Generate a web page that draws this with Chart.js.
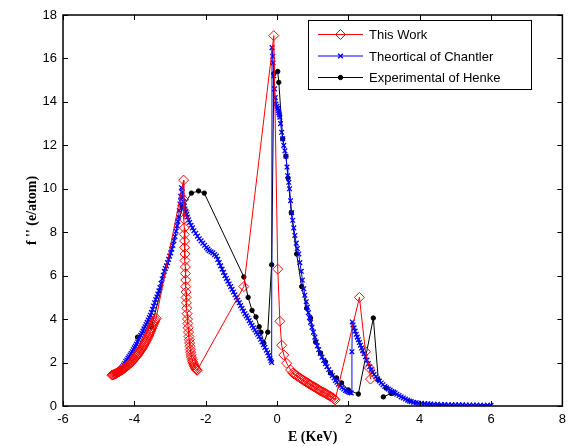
<!DOCTYPE html>
<html>
<head>
<meta charset="utf-8">
<script src="https://cdn.jsdelivr.net/npm/chart.js@4.4.1/dist/chart.umd.min.js"></script>
<style>
  html, body { margin: 0; padding: 0; background: #fff; }
</style>
</head>
<body>
<canvas id="fchart" width="572" height="446"></canvas>
<script>
// This Work (red diamonds)
const workE = [
  -4.63, -4.61, -4.59, -4.57, -4.55, -4.53, -4.51, -4.49, -4.47, -4.45, -4.43, -4.41, -4.39, -4.37, -4.35, -4.33,
  -4.31, -4.29, -4.27, -4.25, -4.23, -4.21, -4.19, -4.17, -4.15, -4.13, -4.11, -4.09, -4.07, -4.05, -4.03, -4.01,
  -3.99, -3.97, -3.95, -3.93, -3.91, -3.89, -3.87, -3.85, -3.83, -3.81, -3.79, -3.77, -3.75, -3.73, -3.71, -3.69,
  -3.67, -3.65, -3.63, -3.61, -3.59, -3.57, -3.55, -3.53, -3.51, -3.49, -3.47, -3.45, -3.43, -3.41, -3.39,
  -2.62, -2.62, -2.61, -2.61, -2.60, -2.60, -2.59, -2.59, -2.58, -2.58, -2.57, -2.57, -2.56, -2.56, -2.55, -2.55,
  -2.54, -2.53, -2.52, -2.51, -2.50, -2.49, -2.48, -2.47, -2.46, -2.45, -2.44, -2.43, -2.42, -2.41, -2.40, -2.38,
  -2.37, -2.35, -2.33, -2.31, -2.29, -2.27, -2.25, -2.24,
  -0.93, -0.09, 0.02, 0.08, 0.13, 0.19, 0.27, 0.38,
  0.44, 0.48, 0.52, 0.56, 0.60, 0.64, 0.68, 0.72, 0.76, 0.80, 0.84, 0.88, 0.92, 0.96, 1.00, 1.04, 1.08, 1.12,
  1.16, 1.20, 1.24, 1.28, 1.32, 1.36, 1.40, 1.44, 1.48, 1.52, 1.56, 1.60, 1.63,
  2.31, 2.48, 2.59, 2.62
];
const workF = [
  1.42, 1.43, 1.44, 1.45, 1.47, 1.48, 1.50, 1.52, 1.54, 1.56, 1.58, 1.60, 1.62, 1.64, 1.66, 1.68,
  1.70, 1.73, 1.75, 1.78, 1.80, 1.83, 1.86, 1.89, 1.92, 1.95, 1.98, 2.01, 2.05, 2.08, 2.12, 2.16,
  2.20, 2.24, 2.28, 2.32, 2.36, 2.40, 2.45, 2.50, 2.55, 2.60, 2.65, 2.70, 2.76, 2.82, 2.88, 2.94,
  3.00, 3.06, 3.13, 3.20, 3.27, 3.34, 3.42, 3.50, 3.58, 3.66, 3.75, 3.83, 3.90, 3.97, 4.04,
  10.4, 9.5, 9.0, 8.6, 8.2, 7.9, 7.6, 7.3, 7.0, 6.7, 6.4, 6.1, 5.8, 5.5, 5.25, 5.0,
  4.75, 4.5, 4.25, 4.0, 3.8, 3.6, 3.4, 3.2, 3.05, 2.9, 2.75, 2.6, 2.48, 2.36, 2.25, 2.14,
  2.05, 1.96, 1.88, 1.81, 1.75, 1.70, 1.66, 1.64,
  5.5, 17.05, 6.3, 3.9, 2.8, 2.35, 1.97, 1.66,
  1.52, 1.47, 1.43, 1.39, 1.34, 1.29, 1.25, 1.20, 1.16, 1.12, 1.08, 1.04, 1.00, 0.96, 0.92, 0.88, 0.84, 0.80,
  0.76, 0.72, 0.68, 0.65, 0.61, 0.58, 0.54, 0.50, 0.46, 0.42, 0.38, 0.33, 0.28,
  5.0, 2.5, 1.75, 1.24
];

// Theortical of Chantler (blue crosses)
const chantlerE = [
  -4.55, -4.51, -4.48, -4.45, -4.42, -4.39, -4.36, -4.33, -4.30, -4.27, -4.24, -4.21, -4.18, -4.15, -4.12, -4.09,
  -4.06, -4.03, -4.00, -3.97, -3.94, -3.91, -3.88, -3.85, -3.82, -3.79, -3.76, -3.73, -3.70, -3.67, -3.64, -3.61,
  -3.58, -3.55, -3.52, -3.49, -3.46, -3.43, -3.40, -3.37, -3.34, -3.31, -3.28, -3.25, -3.22, -3.19, -3.16, -3.13,
  -3.10, -3.07, -3.04, -3.01, -2.98, -2.95, -2.92, -2.89, -2.86, -2.83, -2.80, -2.78, -2.76, -2.74, -2.72, -2.70,
  -2.68, -2.66, -2.64, -2.62, -2.60, -2.58, -2.56, -2.53, -2.51, -2.48, -2.45, -2.41, -2.37, -2.33, -2.28, -2.23,
  -2.18, -2.13, -2.08, -2.03, -1.98, -1.94, -1.90, -1.85, -1.80, -1.75, -1.70, -1.66, -1.62, -1.58, -1.54, -1.50,
  -1.46, -1.42, -1.38, -1.34, -1.30, -1.26, -1.22, -1.18, -1.14, -1.10, -1.06, -1.02, -0.98, -0.94, -0.90, -0.86,
  -0.82, -0.78, -0.74, -0.70, -0.66, -0.62, -0.58, -0.54, -0.50, -0.46, -0.42, -0.38, -0.34, -0.30, -0.26, -0.23,
  -0.20, -0.17, -0.15, -0.14, -0.12, -0.11, -0.09, -0.07, -0.05, -0.03, 0.00, 0.02, 0.04, 0.05, 0.07, 0.08,
  0.10, 0.13, 0.16, 0.19, 0.22, 0.25, 0.28, 0.30, 0.33, 0.35, 0.38, 0.41, 0.44, 0.47, 0.50, 0.54,
  0.57, 0.61, 0.64, 0.68, 0.71, 0.75, 0.78, 0.82, 0.85, 0.88, 0.91, 0.94, 0.98, 1.02, 1.06, 1.10,
  1.13, 1.17, 1.21, 1.26, 1.31, 1.36, 1.40, 1.45, 1.50, 1.55, 1.60, 1.64, 1.68, 1.72, 1.77, 1.82,
  1.87, 1.92, 1.96, 2.00, 2.04, 2.08, 2.10, 2.11, 2.13, 2.16, 2.19, 2.22, 2.25, 2.28, 2.31, 2.34,
  2.37, 2.40, 2.44, 2.48, 2.52, 2.56, 2.60, 2.64, 2.68, 2.72, 2.77, 2.82, 2.87, 2.92, 2.97, 3.02,
  3.07, 3.12, 3.17, 3.22, 3.27, 3.31, 3.36, 3.42, 3.48, 3.54, 3.60, 3.66, 3.71, 3.76, 3.83, 3.90,
  3.97, 4.05, 4.14, 4.23, 4.31, 4.40, 4.50, 4.60, 4.70, 4.80, 4.90, 5.00, 5.10, 5.20, 5.30, 5.40,
  5.50, 5.60, 5.70, 5.80, 5.90, 6.00
];
const chantlerF = [
  1.45, 1.50, 1.55, 1.60, 1.65, 1.70, 1.75, 1.81, 1.88, 1.96, 2.05, 2.12, 2.20, 2.27, 2.35, 2.42,
  2.50, 2.59, 2.68, 2.76, 2.85, 2.95, 3.05, 3.15, 3.25, 3.35, 3.45, 3.55, 3.65, 3.75, 3.85, 3.96,
  4.07, 4.18, 4.30, 4.45, 4.60, 4.75, 4.90, 5.02, 5.15, 5.30, 5.45, 5.65, 5.85, 6.02, 6.20, 6.33,
  6.45, 6.60, 6.75, 6.90, 7.05, 7.22, 7.40, 7.60, 7.80, 8.05, 8.30, 8.50, 8.70, 9.00, 9.30, 9.65,
  10.05, 9.85, 9.6, 9.4, 9.2, 9.07, 8.95, 8.82, 8.7, 8.57, 8.45, 8.32, 8.2, 8.07, 7.95, 7.82,
  7.7, 7.6, 7.5, 7.4, 7.3, 7.22, 7.15, 7.1, 7.05, 6.97, 6.9, 6.75, 6.6, 6.45, 6.3, 6.15,
  6.0, 5.87, 5.75, 5.62, 5.5, 5.37, 5.25, 5.12, 5.0, 4.87, 4.75, 4.62, 4.5, 4.37, 4.25, 4.15,
  4.05, 3.93, 3.82, 3.71, 3.6, 3.5, 3.4, 3.3, 3.2, 3.07, 2.95, 2.82, 2.7, 2.57, 2.45, 2.32,
  2.2, 2.08, 2.0, 16.5, 16.1, 15.8, 15.2, 14.6, 14.2, 13.9, 13.8, 13.7, 13.6, 13.5, 13.4, 13.3,
  13.0, 12.6, 12.3, 12.0, 11.75, 11.5, 11.0, 10.6, 10.3, 10.0, 9.45, 8.9, 8.55, 8.2, 7.85, 7.5,
  7.25, 7.0, 6.6, 6.2, 5.8, 5.4, 5.1, 4.8, 4.55, 4.3, 4.07, 3.85, 3.62, 3.4, 3.17, 2.95,
  2.77, 2.6, 2.42, 2.25, 2.1, 1.95, 1.81, 1.68, 1.54, 1.4, 1.29, 1.18, 1.09, 1.0, 0.92, 0.85,
  0.78, 0.72, 0.68, 0.65, 0.62, 0.6, 2.5, 3.87, 3.73, 3.6, 3.45, 3.3, 3.17, 3.05, 2.92, 2.8,
  2.67, 2.55, 2.41, 2.27, 2.11, 1.95, 1.81, 1.68, 1.56, 1.45, 1.35, 1.25, 1.15, 1.06, 0.98, 0.9,
  0.84, 0.78, 0.73, 0.68, 0.64, 0.6, 0.54, 0.48, 0.42, 0.37, 0.32, 0.27, 0.23, 0.2, 0.17, 0.15,
  0.13, 0.12, 0.11, 0.1, 0.09, 0.08, 0.075, 0.07, 0.065, 0.06, 0.055, 0.05, 0.05, 0.05, 0.045, 0.04,
  0.04, 0.04, 0.035, 0.03, 0.03, 0.03
];

// Experimental of Henke (black dots), null = break in the line
const henkeE = [
  -3.91, -3.52, -2.65, -2.40, -2.20, -2.04, -0.93, -0.81, -0.70, -0.59, -0.50, -0.45, -0.37, -0.26, -0.15, -0.09,
  0.02, 0.05, 0.16, 0.25, 0.31, 0.40, 0.55, 0.69, 0.83, 0.94, 1.08, 1.22, 1.36, 1.50, 1.67, 1.81,
  2.00, 2.28, 2.70, 2.84, 3.06, 3.26, null, 2.98, 3.20
];
const henkeF = [
  3.17, 3.64, 9.16, 9.8, 9.9, 9.8, 5.94, 5.0, 4.4, 4.1, 3.65, 3.4, 2.9, 3.4, 6.5, 15.3,
  15.4, 14.9, 12.3, 11.5, 10.5, 8.9, 7.0, 5.5, 4.5, 4.05, 2.95, 2.44, 2.03, 1.52, 1.29, 1.06,
  0.74, 0.55, 4.05, 1.2, 0.83, 0.6, null, 0.42, 0.58
];

const xTicks = [-6, -4, -2, 0, 2, 4, 6, 8];
const yTicks = [0, 2, 4, 6, 8, 10, 12, 14, 16, 18];

const toPoints = (xs, ys) => xs.map((x, i) => (x === null ? { x: NaN, y: null } : { x: x, y: ys[i] }));

const series = [
  { label: 'This Work', color: '#ff0000', style: 'rectRot', radius: 5, pw: 1, fill: 'rgba(0,0,0,0)', data: toPoints(workE, workF) },
  { label: 'Theortical of Chantler', color: '#0000ff', style: 'crossRot', radius: 3.3, pw: 1.3, fill: '#0000ff', data: toPoints(chantlerE, chantlerF) },
  { label: 'Experimental of Henke', color: '#000000', style: 'circle', radius: 2.2, pw: 1, fill: '#000000', data: toPoints(henkeE, henkeF) }
];

// frame, inward tick marks and the boxed legend, matlab style
const matlabFrame = {
  id: 'matlabFrame',
  afterDatasetsDraw(chart) {
    const { ctx, chartArea: a, scales } = chart;
    ctx.save();
    ctx.strokeStyle = '#000';
    ctx.lineWidth = 1;
    ctx.beginPath();
    xTicks.forEach(v => {
      const px = Math.round(scales.x.getPixelForValue(v)) + 0.5;
      ctx.moveTo(px, a.bottom); ctx.lineTo(px, a.bottom - 5);
      ctx.moveTo(px, a.top); ctx.lineTo(px, a.top + 5);
    });
    yTicks.forEach(v => {
      const py = Math.round(scales.y.getPixelForValue(v)) + 0.5;
      ctx.moveTo(a.left, py); ctx.lineTo(a.left + 5, py);
      ctx.moveTo(a.right, py); ctx.lineTo(a.right - 5, py);
    });
    ctx.stroke();
    ctx.lineWidth = 1.5;
    ctx.strokeRect(a.left, a.top, a.right - a.left, a.bottom - a.top);

    // legend box
    const bx = 308, by = 20, bw = 223, bh = 69;
    ctx.fillStyle = '#fff';
    ctx.fillRect(bx, by, bw, bh);
    ctx.lineWidth = 1;
    ctx.strokeRect(bx + 0.5, by + 0.5, bw, bh);
    ctx.font = '13px "Liberation Sans", Arial, sans-serif';
    ctx.textBaseline = 'middle';
    ctx.textAlign = 'left';
    series.forEach((s, i) => {
      const y = 34.5 + i * 21.5;
      ctx.strokeStyle = s.color;
      ctx.lineWidth = 1;
      ctx.beginPath();
      ctx.moveTo(318, y); ctx.lineTo(363, y);
      ctx.stroke();
      ctx.fillStyle = s.fill;
      ctx.lineWidth = s.pw;
      Chart.helpers.drawPoint(ctx, { pointStyle: s.style, radius: s.radius, borderWidth: s.pw, rotation: 0 }, 340.5, y);
      ctx.fillStyle = '#000';
      ctx.fillText(s.label, 369, y + 1);
    });
    ctx.restore();
  }
};

new Chart(document.getElementById('fchart'), {
  type: 'line',
  data: {
    datasets: series.map(s => ({
      label: s.label,
      data: s.data,
      borderColor: s.color,
      backgroundColor: s.fill,
      borderWidth: 1,
      pointStyle: s.style,
      pointRadius: s.radius,
      pointBorderColor: s.color,
      pointBackgroundColor: s.fill,
      pointBorderWidth: s.pw,
      tension: 0,
      spanGaps: false
    }))
  },
  options: {
    responsive: false,
    animation: false,
    layout: { padding: { top: 15, right: 7, left: 0, bottom: 0 } },
    plugins: {
      legend: { display: false },
      tooltip: { enabled: false }
    },
    scales: {
      x: {
        type: 'linear',
        min: -6,
        max: 8,
        afterFit: s => { s.height = 40; },
        afterBuildTicks: s => { s.ticks = xTicks.map(v => ({ value: v })); },
        grid: { display: false, drawTicks: false, tickLength: 0 },
        border: { display: false },
        ticks: { padding: 6, color: '#000', font: { family: '"Liberation Sans", Arial', size: 13 } },
        title: {
          display: true,
          text: 'E (KeV)',
          color: '#000',
          padding: { top: 0, bottom: 0 },
          font: { family: '"Liberation Serif", "Times New Roman", serif', size: 14, weight: 'bold' }
        }
      },
      y: {
        min: 0,
        max: 18,
        afterFit: s => { s.width = 63; },
        afterBuildTicks: s => { s.ticks = yTicks.map(v => ({ value: v })); },
        grid: { display: false, drawTicks: false, tickLength: 0 },
        border: { display: false },
        ticks: { padding: 6, color: '#000', font: { family: '"Liberation Sans", Arial', size: 13 } },
        title: {
          display: true,
          text: "f '' (e/atom)",
          color: '#000',
          padding: { top: 24, bottom: 0 },
          font: { family: '"Liberation Serif", "Times New Roman", serif', size: 14, weight: 'bold' }
        }
      }
    }
  },
  plugins: [matlabFrame]
});
</script>
</body>
</html>
